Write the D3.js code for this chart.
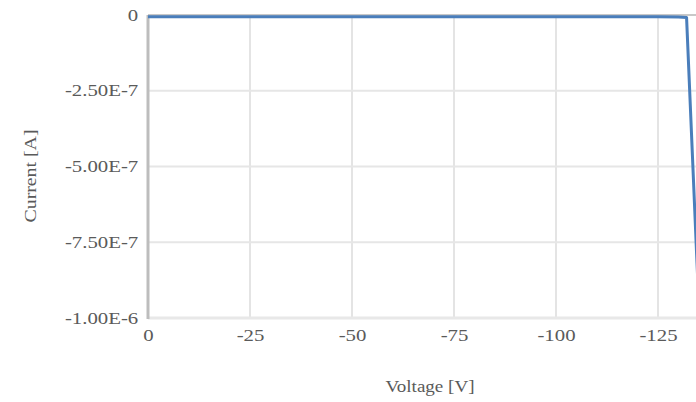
<!DOCTYPE html>
<html>
<head>
<meta charset="utf-8">
<script src="https://cdn.jsdelivr.net/npm/d3@7/dist/d3.min.js"></script>
<style>
  html, body { margin: 0; padding: 0; background: #fff; }
  svg { display: block; }
  text { font-family: "Liberation Serif", "Times New Roman", serif; }
</style>
</head>
<body>
<svg id="chart" width="696" height="402"></svg>
<script>
// I-V sweep: reverse bias voltage and measured current
const voltage = [0, -5, -10, -15, -20, -25, -30, -35, -40, -45, -50, -55, -60, -65, -70,
                 -75, -80, -85, -90, -95, -100, -105, -110, -115, -120, -125, -130, -132, -134.5, -135];
const current = [-6e-9, -6e-9, -6e-9, -6e-9, -6e-9, -6e-9, -6e-9, -6e-9, -6e-9, -6e-9, -6e-9,
                 -6e-9, -6e-9, -6e-9, -6e-9, -6e-9, -6e-9, -6e-9, -6e-9, -6e-9, -6e-9, -6e-9,
                 -6e-9, -6e-9, -6e-9, -6e-9, -7e-9, -8e-9, -8.0e-7, -9.5e-7];

const xGrid = [-25, -50, -75, -100, -125, -150];
const xTicks = [0, -25, -50, -75, -100, -125];
const xTickLabels = ["0", "-25", "-50", "-75", "-100", "-125"];
const yTicks = [0, -2.5e-7, -5e-7, -7.5e-7, -1e-6];
const yTickLabels = ["0", "-2.50E-7", "-5.00E-7", "-7.50E-7", "-1.00E-6"];

const svg = d3.select("#chart");
const plot = { left: 148, top: 15, right: 760, bottom: 318 };

const x = d3.scaleLinear().domain([0, -150]).range([plot.left, plot.right]);
const y = d3.scaleLinear().domain([0, -1e-6]).range([plot.top, plot.bottom]);

svg.append("defs").append("clipPath").attr("id", "plotClip")
  .append("rect")
  .attr("x", plot.left).attr("y", plot.top - 4)
  .attr("width", plot.right - plot.left).attr("height", plot.bottom - plot.top + 4);

// vertical gridlines
svg.append("g")
  .selectAll("line")
  .data(xGrid)
  .join("line")
  .attr("x1", d => x(d)).attr("x2", d => x(d))
  .attr("y1", plot.top).attr("y2", plot.bottom)
  .attr("stroke", "#e4e4e4").attr("stroke-width", 2);

// horizontal gridlines
svg.append("g")
  .selectAll("line")
  .data(yTicks)
  .join("line")
  .attr("x1", plot.left).attr("x2", plot.right)
  .attr("y1", d => y(d)).attr("y2", d => y(d))
  .attr("stroke", d => d === 0 ? "#c8c8c8" : (d === -1e-6 ? "#e8e8e8" : "#e6e6e6"))
  .attr("stroke-width", d => d === -1e-6 ? 3 : 2);

// left axis line
svg.append("line")
  .attr("x1", x(0)).attr("x2", x(0))
  .attr("y1", plot.top).attr("y2", plot.bottom + 1)
  .attr("stroke", "#bdbdbd").attr("stroke-width", 3);

const tickScale = 1.3;

// y tick labels
const yAxis = d3.axisLeft(y)
  .tickValues(yTicks)
  .tickFormat((d, i) => yTickLabels[i])
  .tickSize(0)
  .tickPadding(7.5);
const gy = svg.append("g").attr("transform", `translate(${plot.left},0)`).call(yAxis);
gy.select(".domain").remove();
gy.selectAll("text")
  .attr("fill", "#5a5a5a")
  .attr("transform", `scale(${tickScale},1)`)
  .style("font-size", "16px")
  .style("font-family", "'Liberation Serif', serif");

// x tick labels
const xAxis = d3.axisBottom(x)
  .tickValues(xTicks)
  .tickFormat((d, i) => xTickLabels[i])
  .tickSize(0)
  .tickPadding(12);
const gx = svg.append("g").attr("transform", `translate(0,${plot.bottom})`).call(xAxis);
gx.select(".domain").remove();
gx.selectAll("text")
  .attr("fill", "#5a5a5a")
  .attr("transform", `scale(${tickScale},1)`)
  .style("font-size", "16px")
  .style("font-family", "'Liberation Serif', serif");

// the I-V curve
const points = voltage.map((v, i) => [v, current[i]]);
svg.append("path")
  .datum(points)
  .attr("clip-path", "url(#plotClip)")
  .attr("fill", "none")
  .attr("stroke", "#4a7ebb")
  .attr("stroke-width", 3)
  .attr("stroke-linejoin", "round")
  .attr("d", d3.line().x(d => x(d[0])).y(d => y(d[1])));

// axis titles
svg.append("text")
  .attr("x", 430).attr("y", 392)
  .attr("text-anchor", "middle")
  .attr("fill", "#5a5a5a")
  .attr("textLength", 89)
  .attr("lengthAdjust", "spacingAndGlyphs")
  .style("font-size", "17px")
  .text("Voltage [V]");

svg.append("text")
  .attr("transform", "translate(36,176) rotate(-90)")
  .attr("text-anchor", "middle")
  .attr("fill", "#5a5a5a")
  .attr("textLength", 93)
  .attr("lengthAdjust", "spacingAndGlyphs")
  .style("font-size", "17px")
  .text("Current [A]");
</script>
</body>
</html>
